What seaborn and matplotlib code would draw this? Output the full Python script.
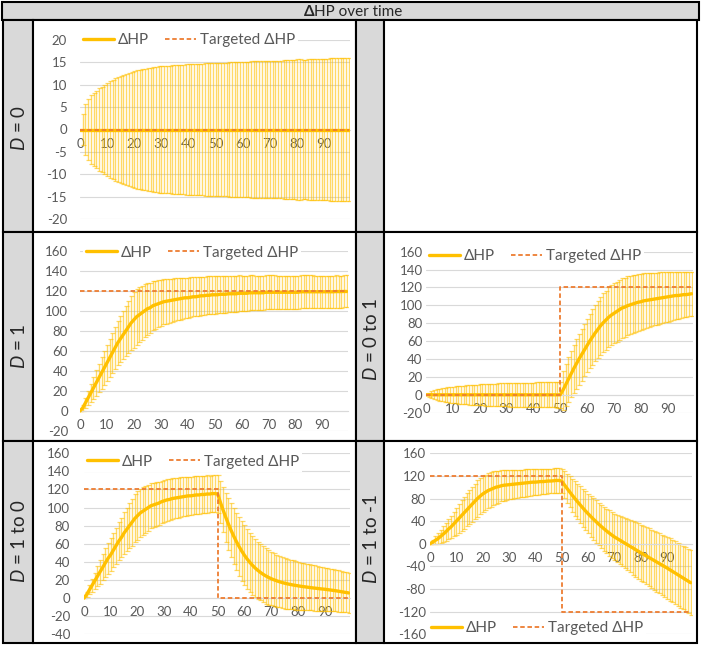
import pandas as pd
import matplotlib.pyplot as plt
import seaborn as sns
from matplotlib.patches import Rectangle
from matplotlib.lines import Line2D

# =========================
# DATA
# =========================
steps = list(range(100))

# D = 0
mean_d0 = [
    0, 0, 0, 0, 0, 0, 0, 0, 0, 0,
    0, 0, 0, 0, 0, 0, 0, 0, 0, 0,
    0, 0, 0, 0, 0, 0, 0, 0, 0, 0,
    0, 0, 0, 0, 0, 0, 0, 0, 0, 0,
    0, 0, 0, 0, 0, 0, 0, 0, 0, 0,
    0, 0, 0, 0, 0, 0, 0, 0, 0, 0,
    0, 0, 0, 0, 0, 0, 0, 0, 0, 0,
    0, 0, 0, 0, 0, 0, 0, 0, 0, 0,
    0, 0, 0, 0, 0, 0, 0, 0, 0, 0,
    0, 0, 0, 0, 0, 0, 0, 0, 0, 0,
]
sd_d0 = [
    0.0, 3.4, 5.6, 6.8, 7.6, 8.2, 8.7, 9.2, 9.6, 10.0,
    10.4, 10.8, 11.1, 11.4, 11.7, 12.0, 12.2, 12.4, 12.6, 12.8,
    13.0, 13.2, 13.3, 13.5, 13.6, 13.7, 13.8, 13.9, 14.0, 14.1,
    14.2, 14.2, 14.3, 14.3, 14.4, 14.4, 14.5, 14.5, 14.5, 14.6,
    14.6, 14.6, 14.7, 14.7, 14.7, 14.7, 14.8, 14.8, 14.8, 14.8,
    14.8, 14.9, 14.9, 14.9, 14.9, 15.0, 15.0, 15.0, 15.0, 15.1,
    15.1, 15.1, 15.1, 15.2, 15.2, 15.2, 15.2, 15.3, 15.3, 15.3,
    15.3, 15.4, 15.4, 15.4, 15.4, 15.5, 15.5, 15.5, 15.6, 15.6,
    15.7, 15.7, 15.6, 15.6, 15.7, 15.7, 15.7, 15.8, 15.8, 15.8,
    15.8, 15.8, 15.9, 15.9, 15.9, 15.9, 16.0, 16.0, 16.0, 16.0,
]
target_x_d0 = [0, 99]
target_d0 = [0, 0]

# D = 1
mean_d1 = [
    0, 3, 8, 13, 18, 23, 28, 33, 38, 43,
    48, 53, 58, 63, 68, 72, 76, 80, 84, 88,
    91, 94, 96, 98, 100, 102, 103, 105, 106, 107,
    108, 109, 109.5, 110, 110.5, 111, 111.5, 112, 112.5, 113,
    113, 113.5, 114, 114, 114.5, 115, 115, 115.5, 115.5, 116,
    116, 116, 116.5, 116.5, 116.5, 117, 117, 117, 117, 117.5,
    117.5, 117.5, 117.5, 118, 118, 118, 118, 118, 118, 118.5,
    118.5, 118.5, 118.5, 118.5, 118.5, 118.5, 118.5, 118.5, 118.5, 118.5,
    118.5, 118.5, 119, 119, 119, 119, 119, 119, 119, 119,
    119, 119, 119, 119, 119, 119.2, 119.2, 119.2, 119.3, 119.3,
]
sd_d1 = [
    0, 3, 5, 7, 9, 11, 13, 14, 16, 17,
    18, 19, 20, 21, 22, 23, 24, 25, 26, 27,
    28, 28, 27.5, 27, 26.5, 26, 25, 24.5, 24, 23.5,
    23, 22.5, 22.2, 22, 21.6, 21.3, 21, 20.7, 20.4, 20.2,
    20, 19.8, 19.6, 19.4, 19.3, 19.2, 19.1, 19, 18.9, 18.8,
    18.7, 18.6, 18.5, 18.4, 18.3, 18.2, 18.1, 18.0, 17.9, 17.8,
    17.7, 17.6, 17.5, 17.4, 17.3, 17.2, 17.1, 17.0, 17.0, 16.9,
    16.9, 16.8, 16.8, 16.7, 16.7, 16.6, 16.6, 16.5, 16.5, 16.5,
    16.4, 16.4, 16.4, 16.3, 16.3, 16.3, 16.3, 16.2, 16.2, 16.2,
    16.2, 16.2, 16.1, 16.1, 16.1, 16.1, 16.0, 16.0, 16.0, 16.0,
]
target_x_d1 = [0, 99]
target_d1 = [120, 120]

# D = 0 to 1
mean_d01 = [
    0, 0, 0, 0, 0, 0, 0, 0, 0, 0,
    0, 0, 0, 0, 0, 0, 0, 0, 0, 0,
    0, 0, 0, 0, 0, 0, 0, 0, 0, 0,
    0, 0, 0, 0, 0, 0, 0, 0, 0, 0,
    0, 0, 0, 0, 0, 0, 0, 0, 0, 0,
    0, 5, 11, 17, 23, 29, 34.5, 40, 45, 50,
    55, 60, 64.5, 69, 73, 77, 80.5, 83.5, 86.5, 89,
    91, 93, 95, 97, 98, 99.5, 100.5, 101.5, 102.5, 103.5,
    104, 105, 105.5, 106, 106.5, 107, 107.5, 108, 108.5, 109,
    109.5, 110, 110.5, 111, 111, 111.5, 112, 112, 112.5, 113,
]
sd_d01 = [
    0, 2.5, 4, 5, 6, 6.7, 7.3, 7.8, 8.3, 8.7,
    9.1, 9.5, 9.8, 10.1, 10.4, 10.7, 10.9, 11.1, 11.3, 11.5,
    11.7, 11.9, 12.0, 12.2, 12.3, 12.4, 12.6, 12.7, 12.8, 12.9,
    13.0, 13.1, 13.2, 13.3, 13.3, 13.4, 13.5, 13.5, 13.6, 13.7,
    13.7, 13.8, 13.8, 13.9, 13.9, 14.0, 14.0, 14.1, 14.1, 14.2,
    14.8, 22, 24, 25, 26, 27, 28, 28.5, 29, 29.5,
    30, 30.5, 31, 31.5, 32, 32.5, 33, 33, 33.5, 33.5,
    33.5, 33.5, 33.5, 33.5, 33, 33, 32.5, 32.5, 32, 32,
    31.5, 31, 30.5, 30, 29.8, 29.5, 29, 28.8, 28.4, 28,
    27.6, 27.2, 26.8, 26.5, 26.2, 25.8, 25.5, 25.2, 24.8, 24.5,
]
target_x_d01 = [0, 50, 99]
target_d01 = [0, 120, 120]

# D = 1 to 0
mean_d10 = [
    0, 4, 9, 14, 19, 24, 29, 34, 39, 44,
    48, 53, 58, 63, 67, 72, 76, 80, 84, 88,
    91, 94, 96, 98, 100, 102, 103, 104, 105, 106.5,
    107.5, 108.5, 109, 110, 110.5, 111, 111.5, 112, 112.5, 113,
    113, 113.5, 114, 114, 114.5, 114.5, 115, 115, 115.5, 115.5,
    115, 106, 97.5, 89.5, 82, 75, 68.5, 62.5, 57, 52,
    47.4, 43.3, 39.6, 36.3, 33.3, 30.7, 28.4, 26.3, 24.5, 22.9,
    21.5, 20.3, 19.2, 18.2, 17.3, 16.5, 15.8, 15.2, 14.6, 14.1,
    13.6, 13.1, 12.7, 12.3, 11.9, 11.5, 11.1, 10.8, 10.4, 10.1,
    9.8, 9.4, 9.0, 8.6, 8.2, 7.7, 7.2, 6.7, 6.2, 5.7,
]
sd_d10 = [
    0, 3, 5, 7, 9, 11, 13, 14.5, 16, 17,
    18, 19, 20, 21, 22, 23, 24, 25, 26, 26.5,
    27, 27, 26.5, 26, 25.5, 25, 24.5, 24, 23.7, 23.4,
    23, 22.8, 22.6, 22.4, 22.2, 22, 21.8, 21.6, 21.4, 21.2,
    21, 20.9, 20.8, 20.7, 20.6, 20.5, 20.5, 20.4, 20.4, 20.3,
    20.5, 23, 25, 27, 28.5, 30, 31, 32, 32.5, 33,
    33, 33, 32.5, 32.5, 32, 31.5, 31, 31, 30.5, 30,
    29.5, 29, 28.8, 28.5, 28.2, 28, 27.6, 27.3, 27, 26.8,
    26.5, 26.2, 26, 25.7, 25.4, 25.2, 25, 24.7, 24.5, 24.2,
    24, 23.8, 23.5, 23.3, 23, 22.8, 22.5, 22.3, 22.1, 22,
]
target_x_d10 = [0, 50, 99]
target_d10 = [120, 0, 0]

# D = 1 to -1
mean_d1m1 = [
    0, 3, 6, 9, 13, 17, 21, 26, 30, 35,
    40, 45, 50, 55, 60, 65, 70, 75, 80, 84,
    88, 91, 94, 96, 98, 100, 101, 102.5, 103.5, 104,
    104.5, 105, 105.5, 106, 106.5, 107, 107.5, 108, 108.5, 109,
    109, 109.5, 110, 110, 110.5, 111, 111, 111.5, 112, 112,
    111, 104.5, 98.2, 92.0, 86.0, 80.2, 74.5, 69.0, 63.6, 58.4,
    53.4, 48.6, 43.9, 39.4, 35.0, 30.8, 26.8, 22.9, 19.2, 15.7,
    12.3, 9.5, 6.7, 3.9, 1.1, -1.7, -4.5, -7.3, -10.1, -12.9,
    -15.7, -18.4, -21.1, -23.8, -26.5, -29.2, -31.9, -34.6, -37.3, -40.0,
    -42.7, -45.6, -48.5, -51.4, -54.3, -57.2, -60.1, -63.0, -65.9, -68.8,
]
sd_d1m1 = [
    0, 4, 7, 10, 12, 14, 16, 18, 20, 22,
    24, 26, 27, 28, 29, 30, 31, 31.5, 32, 32,
    32, 31.5, 31, 30.5, 30, 29, 28.5, 27.5, 27, 26.5,
    26, 25.5, 25, 24.8, 24.5, 24.2, 24, 23.7, 23.5, 23.3,
    23, 22.8, 22.6, 22.4, 22.2, 22, 22, 21.8, 21.7, 21.5,
    22, 24, 26, 27.5, 29, 30.5, 31.5, 32.5, 33.5, 34.5,
    35, 36, 37, 37.5, 38, 38.5, 39, 39.5, 40, 40.5,
    41, 41.5, 42, 43, 44, 45, 46, 47, 48, 49,
    49.5, 50, 50.5, 51, 51.5, 52, 52.5, 53, 53.5, 54,
    54.5, 55, 55, 55.5, 55.5, 56, 56, 56.5, 56.5, 57,
]
target_x_d1m1 = [0, 50, 99]
target_d1m1 = [120, -120, -120]

# =========================
# STYLE
# =========================
sns.set_theme(style="white")
plt.rcParams["font.family"] = ["Lato", "DejaVu Sans"]
plt.rcParams["mathtext.fontset"] = "custom"
plt.rcParams["mathtext.it"] = "Lato:italic"
plt.rcParams["mathtext.rm"] = "Lato"
plt.rcParams["axes.unicode_minus"] = False

GOLD = "#FFC000"
ORANGE = "#ED7D31"
GRID = "#D9D9D9"
TXT = "#595959"
CELL = "#D9D9D9"
DASH = (0, (2.5, 1.5))

W, H = 702, 646
fig = plt.figure(figsize=(W / 100, H / 100), dpi=100)

# background axes in pixel coordinates for the table
bg = fig.add_axes([0, 0, 1, 1])
bg.set_xlim(0, W)
bg.set_ylim(H, 0)
bg.axis("off")


def box(x0, y0, x1, y1, fill="white"):
    bg.add_patch(Rectangle((x0, y0), x1 - x0, y1 - y0, facecolor=fill,
                           edgecolor="black", lw=1.5))


box(2, 2, 699, 20, CELL)
rows = [(20, 232), (232, 441), (441, 643)]
for y0, y1 in rows:
    box(3, y0, 33, y1, CELL)
    box(33, y0, 356, y1)
    box(356, y0, 384, y1, CELL)
    box(384, y0, 697, y1)

bg.text(314, 11.5, "Δ", fontsize=11, fontweight="bold", ha="right", va="center")
bg.text(314, 11.5, "HP over time", fontsize=11, ha="left", va="center")

row_labels = [
    (19, 128, "$D$ = 0"),
    (19, 346, "$D$ = 1"),
    (371, 339, "$D$ = 0 to 1"),
    (19, 541, "$D$ = 1 to 0"),
    (371, 539, "$D$ = 1 to -1"),
]
for x, y, s in row_labels:
    bg.text(x, y, s, fontsize=13.5, rotation=90, ha="center", va="center")

handles = [
    Line2D([], [], color=GOLD, lw=2.4, label="ΔHP"),
    Line2D([], [], color=ORANGE, lw=1.3, ls=DASH, label="Targeted ΔHP"),
]


def panel(rect, mean, sd, tx, ty, ylo, yhi, ystep, ypad, leg_xy):
    left, top, right, bottom = rect
    ax = fig.add_axes([left / W, 1 - bottom / H, (right - left) / W, (bottom - top) / H])
    ax.patch.set_alpha(0)
    ax.errorbar(steps, mean, yerr=sd, fmt="none", ecolor=GOLD, alpha=0.6,
                elinewidth=1.0, capsize=1.8, capthick=0.9, zorder=2)
    df = pd.DataFrame({"step": steps, "mean": mean})
    sns.lineplot(data=df, x="step", y="mean", color=GOLD, lw=2.4, ax=ax, zorder=4)
    tdf = pd.DataFrame({"step": tx, "target": ty})
    sns.lineplot(data=tdf, x="step", y="target", color=ORANGE, lw=1.3,
                 linestyle=DASH, drawstyle="steps-post", ax=ax, zorder=5)

    ax.set_xlim(0, 99.5)
    ax.set_ylim(ylo, yhi)
    ax.set_yticks(range(ylo, yhi + 1, ystep))
    ax.set_xticks(range(0, 100, 10))
    ax.grid(axis="y", color=GRID, lw=0.8)
    ax.grid(axis="x", visible=False)
    ax.set_axisbelow(True)
    for s in ["left", "top", "right"]:
        ax.spines[s].set_visible(False)
    ax.spines["bottom"].set_position(("data", 0))
    ax.spines["bottom"].set_color(GRID)
    ax.spines["bottom"].set_linewidth(0.8)
    ax.tick_params(axis="both", length=0, labelsize=9.5, labelcolor=TXT)
    ax.tick_params(axis="y", pad=ypad)
    ax.tick_params(axis="x", pad=6)
    ax.set_xlabel("")
    ax.set_ylabel("")
    ax.legend(handles=handles, loc="center left", bbox_to_anchor=leg_xy, ncol=2,
              frameon=True, facecolor="white", edgecolor="none", framealpha=1,
              fancybox=False, fontsize=11, labelcolor=TXT, handlelength=2.0,
              handletextpad=0.25, columnspacing=1.1, borderpad=0.2, borderaxespad=0)
    return ax


panel((80, 40, 350, 219), mean_d0, sd_d0, target_x_d0, target_d0,
      -20, 20, 5, 9.4, (0.0, 1.0))
panel((80, 250.7, 348, 431), mean_d1, sd_d1, target_x_d1, target_d1,
      -20, 160, 20, 8.6, (0.011, 0.989))
panel((426, 251.7, 693, 412.7), mean_d01, sd_d01, target_x_d01, target_d01,
      -20, 160, 20, 2.5, (0.0, 0.973))
panel((84, 453.3, 350, 634.3), mean_d10, sd_d10, target_x_d10, target_d10,
      -40, 160, 20, 10, (0.0, 0.954))
panel((430, 453.3, 692, 634.3), mean_d1m1, sd_d1m1, target_x_d1m1, target_d1m1,
      -160, 160, 40, 3, (-0.008, 0.033))

plt.savefig("out.png", dpi=100)
plt.close()
